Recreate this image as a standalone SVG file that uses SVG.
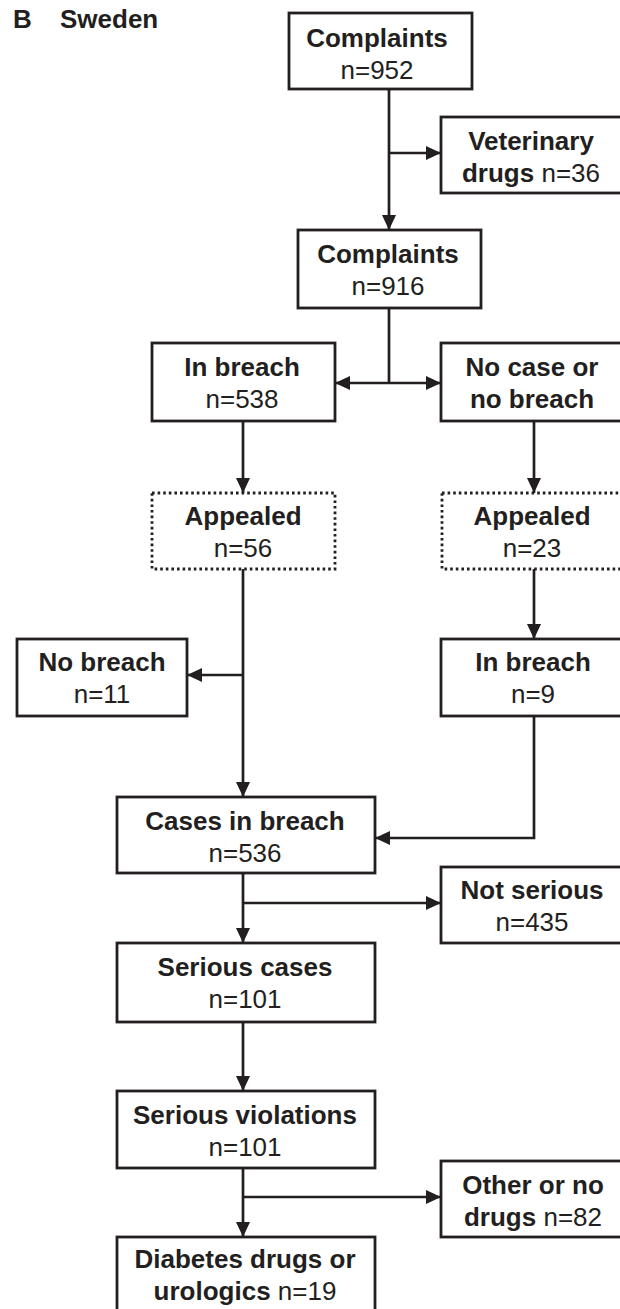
<svg xmlns="http://www.w3.org/2000/svg" width="620" height="1309" viewBox="0 0 620 1309">
<style>
.bx{fill:#fff;stroke:#231f20;stroke-width:2.8}
.dt{fill:#fff;stroke:#231f20;stroke-width:2.8;stroke-dasharray:2.6 3}
.t{font-family:"Liberation Sans",Arial,sans-serif;font-size:26px;fill:#231f20;text-anchor:middle}
.b{font-weight:bold}
.ln{fill:none;stroke:#231f20;stroke-width:2.7;marker-end:url(#ah)}
.pl{fill:none;stroke:#231f20;stroke-width:2.7}
</style>
<defs>
<marker id="ah" markerUnits="userSpaceOnUse" markerWidth="16" markerHeight="16" refX="15" refY="7.5" orient="auto">
<path d="M0,0.5 L15,7.5 L0,14.5 z" fill="#231f20"/>
</marker>
</defs>
<rect width="620" height="1309" fill="#fff"/>
<g id="title"><text class="t b" x="13" y="28" style="text-anchor:start">B</text><text class="t b" x="60" y="28" style="text-anchor:start">Sweden</text></g>
<g id="connectors">
<line class="ln" x1="389" y1="89" x2="389" y2="230"/>
<line class="ln" x1="389" y1="153" x2="441" y2="153"/>
<line class="pl" x1="389" y1="308" x2="389" y2="383"/>
<line class="ln" x1="389" y1="383" x2="335" y2="383"/>
<line class="ln" x1="389" y1="383" x2="441" y2="383"/>
<line class="ln" x1="243" y1="421" x2="243" y2="493"/>
<line class="ln" x1="534" y1="421" x2="534" y2="493"/>
<line class="ln" x1="243" y1="569" x2="243" y2="797"/>
<line class="ln" x1="243" y1="675" x2="187" y2="675"/>
<line class="ln" x1="534" y1="569" x2="534" y2="639"/>
<polyline class="ln" points="534,716 534,838 375,838"/>
<line class="ln" x1="243" y1="873" x2="243" y2="943"/>
<line class="ln" x1="243" y1="903" x2="441" y2="903"/>
<line class="ln" x1="243" y1="1022" x2="243" y2="1091"/>
<line class="ln" x1="243" y1="1168" x2="243" y2="1237"/>
<line class="ln" x1="243" y1="1197" x2="441" y2="1197"/>
</g>
<g id="n952"><rect class="bx" x="289" y="13" width="183" height="76"/><text class="t b" x="377" y="47">Complaints</text><text class="t" x="377" y="79">n=952</text></g>
<g id="vet"><rect class="bx" x="441" y="117" width="184" height="76"/><text class="t b" x="531" y="150">Veterinary</text><text class="t" x="531" y="182"><tspan class="b">drugs</tspan> n=36</text></g>
<g id="n916"><rect class="bx" x="298" y="230" width="183" height="78"/><text class="t b" x="388" y="263">Complaints</text><text class="t" x="388" y="295">n=916</text></g>
<g id="inbreach538"><rect class="bx" x="152" y="343" width="183" height="78"/><text class="t b" x="242" y="376">In breach</text><text class="t" x="242" y="408">n=538</text></g>
<g id="nocase"><rect class="bx" x="441" y="343" width="184" height="78"/><text class="t b" x="532" y="376">No case or</text><text class="t b" x="532" y="408">no breach</text></g>
<g id="app56"><rect class="dt" x="152" y="493" width="183" height="76"/><text class="t b" x="243" y="525">Appealed</text><text class="t" x="243" y="557">n=56</text></g>
<g id="app23"><rect class="dt" x="442" y="493" width="183" height="76"/><text class="t b" x="532" y="525">Appealed</text><text class="t" x="532" y="557">n=23</text></g>
<g id="nobreach"><rect class="bx" x="17" y="639" width="170" height="77"/><text class="t b" x="102" y="671">No breach</text><text class="t" x="102" y="703">n=11</text></g>
<g id="inbreach9"><rect class="bx" x="441" y="639" width="184" height="77"/><text class="t b" x="533" y="671">In breach</text><text class="t" x="533" y="703">n=9</text></g>
<g id="cases536"><rect class="bx" x="117" y="797" width="258" height="76"/><text class="t b" x="245" y="830">Cases in breach</text><text class="t" x="245" y="862">n=536</text></g>
<g id="notserious"><rect class="bx" x="441" y="867" width="184" height="76"/><text class="t b" x="532" y="899">Not serious</text><text class="t" x="532" y="931">n=435</text></g>
<g id="seriouscases"><rect class="bx" x="117" y="943" width="258" height="79"/><text class="t b" x="245" y="976">Serious cases</text><text class="t" x="245" y="1008">n=101</text></g>
<g id="seriousviol"><rect class="bx" x="117" y="1091" width="258" height="77"/><text class="t b" x="245" y="1124">Serious violations</text><text class="t" x="245" y="1156">n=101</text></g>
<g id="other"><rect class="bx" x="441" y="1161" width="184" height="76"/><text class="t b" x="533" y="1194">Other or no</text><text class="t" x="533" y="1226"><tspan class="b">drugs</tspan> n=82</text></g>
<g id="diabetes"><rect class="bx" x="117" y="1237" width="258" height="80"/><text class="t b" x="245" y="1268">Diabetes drugs or</text><text class="t" x="245" y="1300"><tspan class="b">urologics</tspan> n=19</text></g>
</svg>
